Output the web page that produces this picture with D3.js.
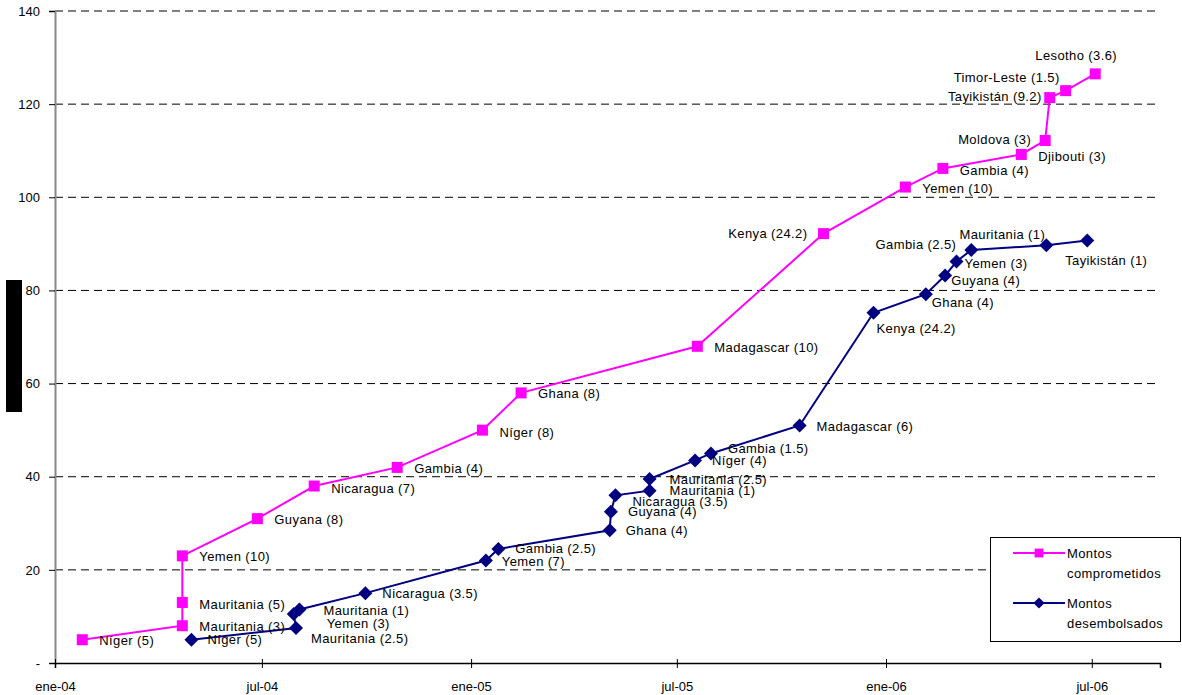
<!DOCTYPE html>
<html>
<head>
<meta charset="utf-8">
<script src="https://cdn.jsdelivr.net/npm/d3@7"></script>
<style>
  body { margin: 0; background: #fff; }
  svg { font-family: "Liberation Sans", Arial, sans-serif; }
</style>
</head>
<body>
<div id="chart"></div>
<script>
// Montos comprometidos (acumulado)
const commitDates = ["2004-01-25","2004-04-22","2004-04-22","2004-04-22","2004-06-27","2004-08-16","2004-10-28","2005-01-11","2005-02-14","2005-07-19","2005-11-07","2006-01-18","2006-02-20","2006-04-30","2006-05-21","2006-05-25","2006-06-08","2006-07-04"];
const commitValues = [5, 8, 13, 23, 31, 38, 42, 50, 58, 68, 92.2, 102.2, 106.2, 109.2, 112.2, 121.4, 122.9, 126.5];
const commitLabels = ["Níger (5)","Mauritania (3)","Mauritania (5)","Yemen (10)","Guyana (8)","Nicaragua (7)","Gambia (4)","Níger (8)","Ghana (8)","Madagascar (10)","Kenya (24.2)","Yemen (10)","Gambia (4)","Djibouti (3)","Moldova (3)","Tayikistán (9.2)","Timor-Leste (1.5)","Lesotho (3.6)"];

// Montos desembolsados (acumulado)
const disbDates = ["2004-04-30","2004-07-31","2004-07-29","2004-08-03","2004-09-30","2005-01-14","2005-01-25","2005-05-03","2005-05-04","2005-05-08","2005-06-07","2005-06-07","2005-07-17","2005-07-31","2005-10-17","2005-12-21","2006-02-05","2006-02-22","2006-03-04","2006-03-17","2006-05-22","2006-06-27"];
const disbValues = [5, 7.5, 10.5, 11.5, 15, 22, 24.5, 28.5, 32.5, 36, 37, 39.5, 43.5, 45, 51, 75.2, 79.2, 83.2, 86.2, 88.7, 89.7, 90.7];
const disbLabels = ["Níger (5)","Mauritania (2.5)","Yemen (3)","Mauritania (1)","Nicaragua (3.5)","Yemen (7)","Gambia (2.5)","Ghana (4)","Guyana (4)","Nicaragua (3.5)","Mauritania (1)","Mauritania (2.5)","Níger (4)","Gambia (1.5)","Madagascar (6)","Kenya (24.2)","Ghana (4)","Guyana (4)","Yemen (3)","Gambia (2.5)","Mauritania (1)","Tayikistán (1)"];

const yTicks = [0, 20, 40, 60, 80, 100, 120, 140];
const monthNames = ["ene","feb","mar","abr","may","jun","jul","ago","sep","oct","nov","dic"];
const seriesNames = [["Montos", "comprometidos"], ["Montos", "desembolsados"]];

// label placement: [anchor, dx, dy]
const commitPlace = [["start",17,1],["start",17,1],["start",17,2],["start",17,1],["start",17,1],["start",17,2],["start",17,1],["start",17,2],["start",17,1],["start",17,1],["end",-16,0],["start",17,1],["start",17,2],["start",17,2],["end",-14,-1],["end",-8,-1],["end",-6,-13],["middle",-19,-18]];
const disbPlace = [["start",16,0],["start",15,10],["start",33,9],["start",24,1],["start",17,0],["start",16,1],["start",17,0],["start",16,0],["start",17,0],["start",17,6],["start",20,0],["start",20,0],["start",17,0],["start",17,-5],["start",17,1],["start",3,16],["start",6,8],["start",6,5],["start",8,2],["end",-15,-5],["middle",-44,-11],["middle",19,20]];

const W = 1182, H = 695;
const parse = d3.timeParse("%Y-%m-%d");

const svg = d3.select("#chart").append("svg")
    .attr("width", W)
    .attr("height", H);

const x = d3.scaleTime()
    .domain([parse("2004-01-01"), parse("2006-08-30")])
    .range([55, 1160]);

const y = d3.scaleLinear()
    .domain([0, 140])
    .range([663, 11]);

// blacked out axis title
svg.append("rect")
    .attr("x", 6).attr("y", 280)
    .attr("width", 16).attr("height", 132)
    .attr("fill", "#000");

// gridlines
svg.append("g")
    .selectAll("line")
    .data(yTicks.filter(d => d > 0))
    .enter().append("line")
    .attr("x1", 55).attr("x2", 1160)
    .attr("y1", d => y(d)).attr("y2", d => y(d))
    .attr("stroke", "#000")
    .attr("stroke-width", 1)
    .attr("stroke-dasharray", "8,5");

// y axis
const yAxis = d3.axisLeft(y)
    .tickValues(yTicks)
    .tickSize(6)
    .tickFormat(d => d === 0 ? "-" : d);

const gy = svg.append("g")
    .attr("transform", "translate(55,0)")
    .call(yAxis);
gy.select(".domain").attr("stroke", "#888").attr("stroke-width", 2);
gy.selectAll(".tick line").attr("stroke", "#000");
gy.selectAll(".tick text")
    .attr("x", -15)
    .style("font-size", "13px")
    .style("fill", "#000");

// x axis
const xAxis = d3.axisBottom(x)
    .ticks(d3.timeMonth.every(6))
    .tickSize(5)
    .tickFormat(d => monthNames[d.getMonth()] + "-" + d3.timeFormat("%y")(d));

const gx = svg.append("g")
    .attr("transform", "translate(0,663)")
    .call(xAxis);
gx.select(".domain").attr("stroke", "#000").attr("stroke-width", 1.5);
gx.selectAll(".tick line").attr("y1", -4).attr("stroke", "#000");
gx.selectAll(".tick text")
    .attr("y", 19)
    .style("font-size", "13px")
    .style("fill", "#000");

const line = d3.line()
    .x(d => x(d.date))
    .y(d => y(d.value));

function build(dates, values, labels, place) {
    return dates.map((d, i) => ({ date: parse(d), value: values[i], label: labels[i], place: place[i] }));
}

const commit = build(commitDates, commitValues, commitLabels, commitPlace);
const disb = build(disbDates, disbValues, disbLabels, disbPlace);

const pink = "#ff00ff", navy = "#000080";

function drawSeries(data, color, marker) {
    const g = svg.append("g");
    g.append("path")
        .datum(data)
        .attr("fill", "none")
        .attr("stroke", color)
        .attr("stroke-width", 2)
        .attr("d", line);
    g.selectAll("path.mk")
        .data(data)
        .enter().append("path")
        .attr("class", "mk")
        .attr("transform", d => `translate(${x(d.date)},${y(d.value)})`)
        .attr("d", marker)
        .attr("fill", color);
    return g;
}

const square = "M-5.5,-5.5H5.5V5.5H-5.5Z";
const diamond = "M0,-7L7,0L0,7L-7,0Z";

drawSeries(commit, pink, square);
drawSeries(disb, navy, diamond);

function drawLabels(data) {
    svg.append("g")
        .selectAll("text")
        .data(data)
        .enter().append("text")
        .attr("x", d => x(d.date) + d.place[1])
        .attr("y", d => y(d.value) + d.place[2])
        .attr("dy", "0.35em")
        .attr("text-anchor", d => d.place[0])
        .style("font-size", "13px")
        .style("letter-spacing", "0.4px")
        .style("fill", "#000")
        .text(d => d.label);
}
drawLabels(commit);
drawLabels(disb);

// legend
const lg = svg.append("g");
lg.append("rect")
    .attr("x", 990.5).attr("y", 537.5)
    .attr("width", 190).attr("height", 104)
    .attr("fill", "#fff")
    .attr("stroke", "#000");

[[pink, square, 553], [navy, diamond, 603]].forEach((s, i) => {
    lg.append("line")
        .attr("x1", 1013).attr("x2", 1065)
        .attr("y1", s[2]).attr("y2", s[2])
        .attr("stroke", s[0]).attr("stroke-width", 2);
    lg.append("path")
        .attr("transform", `translate(1039,${s[2]}) scale(0.8)`)
        .attr("d", s[1])
        .attr("fill", s[0]);
    seriesNames[i].forEach((t, j) => {
        lg.append("text")
            .attr("x", 1067)
            .attr("y", s[2] + j * 20)
            .attr("dy", "0.35em")
            .style("font-size", "13px")
            .style("letter-spacing", "0.4px")
            .text(t);
    });
});
</script>
</body>
</html>
